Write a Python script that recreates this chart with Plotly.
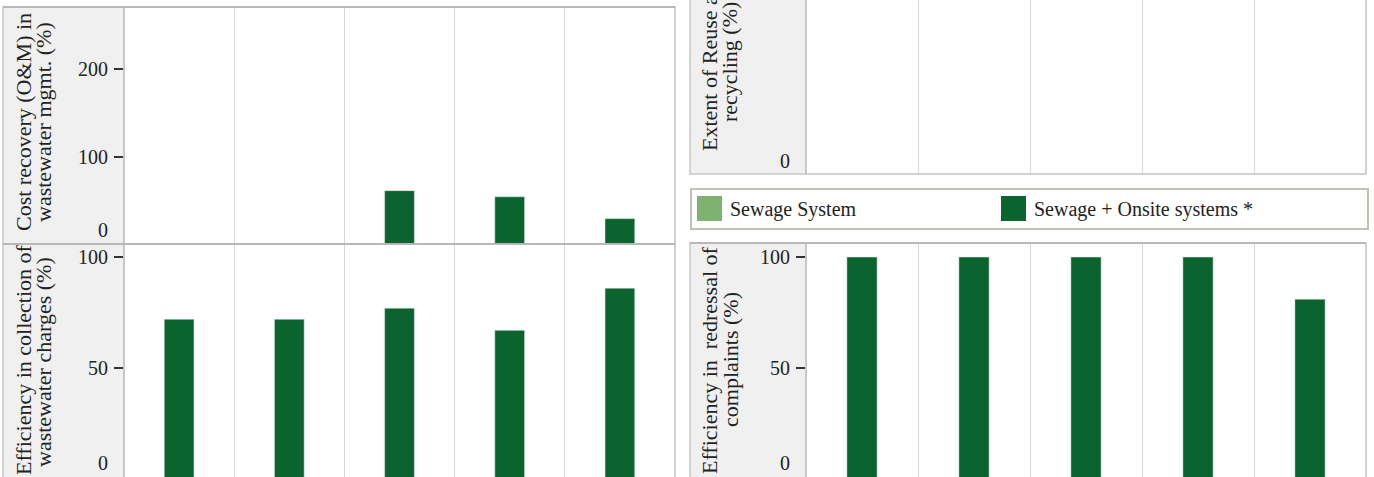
import plotly.graph_objects as go

# ---------------- data ----------------
categories = ["C1", "C2", "C3", "C4", "C5"]
series_names = ["Sewage System", "Sewage + Onsite systems *"]
series_colors = ["#7db270", "#0b632d"]

cost_recovery_sewage = [None, None, None, None, None]
cost_recovery_onsite = [None, None, 61, 54, 29]

reuse_sewage = [None, None, None, None, None]
reuse_onsite = [None, None, None, None, None]

collection_sewage = [None, None, None, None, None]
collection_onsite = [72, 72, 77, 67, 86]

redressal_sewage = [None, None, None, None, None]
redressal_onsite = [100, 100, 100, 100, 81]

titles = {
    "tl": ["Cost recovery (O&M) in", "wastewater mgmt. (%)"],
    "tr": ["Extent of Reuse and", "recycling (%)"],
    "bl": ["Efficiency in collection of", "wastewater charges (%)"],
    "br": ["Efficiency in  redressal of", "complaints (%)"],
}

# ---------------- layout helpers ----------------
W, H = 1374, 477
FONT = "Liberation Serif"


def px(x):
    return x / W


def py(y):
    return 1 - y / H


fig = go.Figure()

panels = [
    ("tl", "x", "y", cost_recovery_sewage, cost_recovery_onsite),
    ("tr", "x2", "y2", reuse_sewage, reuse_onsite),
    ("bl", "x3", "y3", collection_sewage, collection_onsite),
    ("br", "x4", "y4", redressal_sewage, redressal_onsite),
]

for key, xa, ya, sew, ons in panels:
    fig.add_trace(go.Bar(x=categories, y=sew, name=series_names[0],
                         marker_color=series_colors[0], width=0.27,
                         xaxis=xa, yaxis=ya, showlegend=False))
    fig.add_trace(go.Bar(x=categories, y=ons, name=series_names[1],
                         marker_color=series_colors[1], width=0.27,
                         xaxis=xa, yaxis=ya, showlegend=False))

xcommon = dict(type="category", showticklabels=False, showgrid=True,
               gridcolor="#d9d9d9", gridwidth=1, tickson="boundaries",
               ticks="", showline=False, zeroline=False,
               range=[-0.5, 4.5], fixedrange=True)
ycommon = dict(showgrid=False, zeroline=False, showline=False,
               ticks="outside", ticklen=9, tickwidth=1.5, tickcolor="#333333",
               ticklabelstandoff=2,
               tickfont=dict(family=FONT, size=20, color="#222222"))

L_TL = (124, 675, 7, 244)
L_BL = (124, 675, 244, 477)
L_TR = (806, 1366, 0, 174)
L_BR = (806, 1366, 243, 477)


def dom(g):
    x0, x1, y0, y1 = g
    return [px(x0), px(x1)], [py(y1), py(y0)]


dx, dy = dom(L_TL)
fig.update_layout(xaxis=dict(xcommon, domain=dx, anchor="y"),
                  yaxis=dict(ycommon, domain=dy, anchor="x", range=[0, 271],
                             tickvals=[100, 200]))
dx, dy = dom(L_TR)
fig.update_layout(xaxis2=dict(xcommon, domain=dx, anchor="y2"),
                  yaxis2=dict(ycommon, domain=dy, anchor="x2", range=[0, 100],
                              tickvals=[]))
dx, dy = dom(L_BL)
fig.update_layout(xaxis3=dict(xcommon, domain=dx, anchor="y3"),
                  yaxis3=dict(ycommon, domain=dy, anchor="x3", range=[0.9, 105.9],
                              tickvals=[50, 100]))
dx, dy = dom(L_BR)
fig.update_layout(xaxis4=dict(xcommon, domain=dx, anchor="y4"),
                  yaxis4=dict(ycommon, domain=dy, anchor="x4", range=[0.9, 106.3],
                              tickvals=[50, 100]))

shapes = []
annotations = []

label_boxes = [(3, 124, 7, 244), (3, 124, 244, 490), (690, 806, -60, 174), (690, 806, 243, 490)]
for x0, x1, y0, y1 in label_boxes:
    shapes.append(dict(type="rect", xref="paper", yref="paper",
                       x0=px(x0), x1=px(x1), y0=py(y1), y1=py(y0),
                       fillcolor="#f0f0f0", line=dict(color="#c8c8c8", width=1.5),
                       layer="below"))

for g in [L_TL, (124, 675, 244, 490), (806, 1366, -60, 174), (806, 1366, 243, 490)]:
    x0, x1, y0, y1 = g
    shapes.append(dict(type="rect", xref="paper", yref="paper",
                       x0=px(x0), x1=px(x1), y0=py(y1), y1=py(y0),
                       fillcolor="rgba(0,0,0,0)", line=dict(color="#c4c4c4", width=1.5),
                       layer="above"))
for x0, x1, y in [(3, 675, 7), (3, 675, 244), (690, 1366, 243)]:
    shapes.append(dict(type="line", xref="paper", yref="paper",
                       x0=px(x0), x1=px(x1), y0=py(y), y1=py(y),
                       line=dict(color="#b8b8b8", width=2), layer="above"))

for x, y in [(110, 230), (792, 161), (110, 463), (792, 463)]:
    annotations.append(dict(text="0", xref="paper", yref="paper", x=px(x), y=py(y),
                            xanchor="right", yanchor="middle", showarrow=False,
                            font=dict(family=FONT, size=20, color="#222222")))

title_pos = {
    "tl": [(23, 122), (43, 122)],
    "tr": [(709, 62), (729, 62)],
    "bl": [(23, 360), (43, 362)],
    "br": [(709, 360), (730, 360)],
}
for key, lines in titles.items():
    for (x, y), line in zip(title_pos[key], lines):
        annotations.append(dict(text=line, xref="paper", yref="paper", x=px(x), y=py(y),
                                xanchor="center", yanchor="middle", textangle=-90,
                                showarrow=False,
                                font=dict(family=FONT, size=22, color="#222222")))

shapes.append(dict(type="rect", xref="paper", yref="paper",
                   x0=px(691), x1=px(1368), y0=py(229), y1=py(189),
                   fillcolor="white", line=dict(color="#c2c0b2", width=2), layer="above"))
leg_x = [697, 1001]
for i, name in enumerate(series_names):
    x0 = leg_x[i]
    shapes.append(dict(type="rect", xref="paper", yref="paper",
                       x0=px(x0), x1=px(x0 + 25), y0=py(221), y1=py(196),
                       fillcolor=series_colors[i], line=dict(width=0), layer="above"))
    annotations.append(dict(text=name, xref="paper", yref="paper",
                            x=px(x0 + 31), y=py(209), xanchor="left", yanchor="middle",
                            showarrow=False,
                            font=dict(family=FONT, size=20, color="#222222")))

fig.update_layout(
    width=W, height=H,
    margin=dict(l=0, r=0, t=0, b=0),
    paper_bgcolor="white", plot_bgcolor="white",
    barmode="overlay", showlegend=False,
    shapes=shapes, annotations=annotations,
    font=dict(family=FONT, size=20, color="#222222"),
)

fig.write_html("out.html", config={"displayModeBar": False},
               post_script="document.body.style.margin='0';document.body.style.overflow='hidden';")
